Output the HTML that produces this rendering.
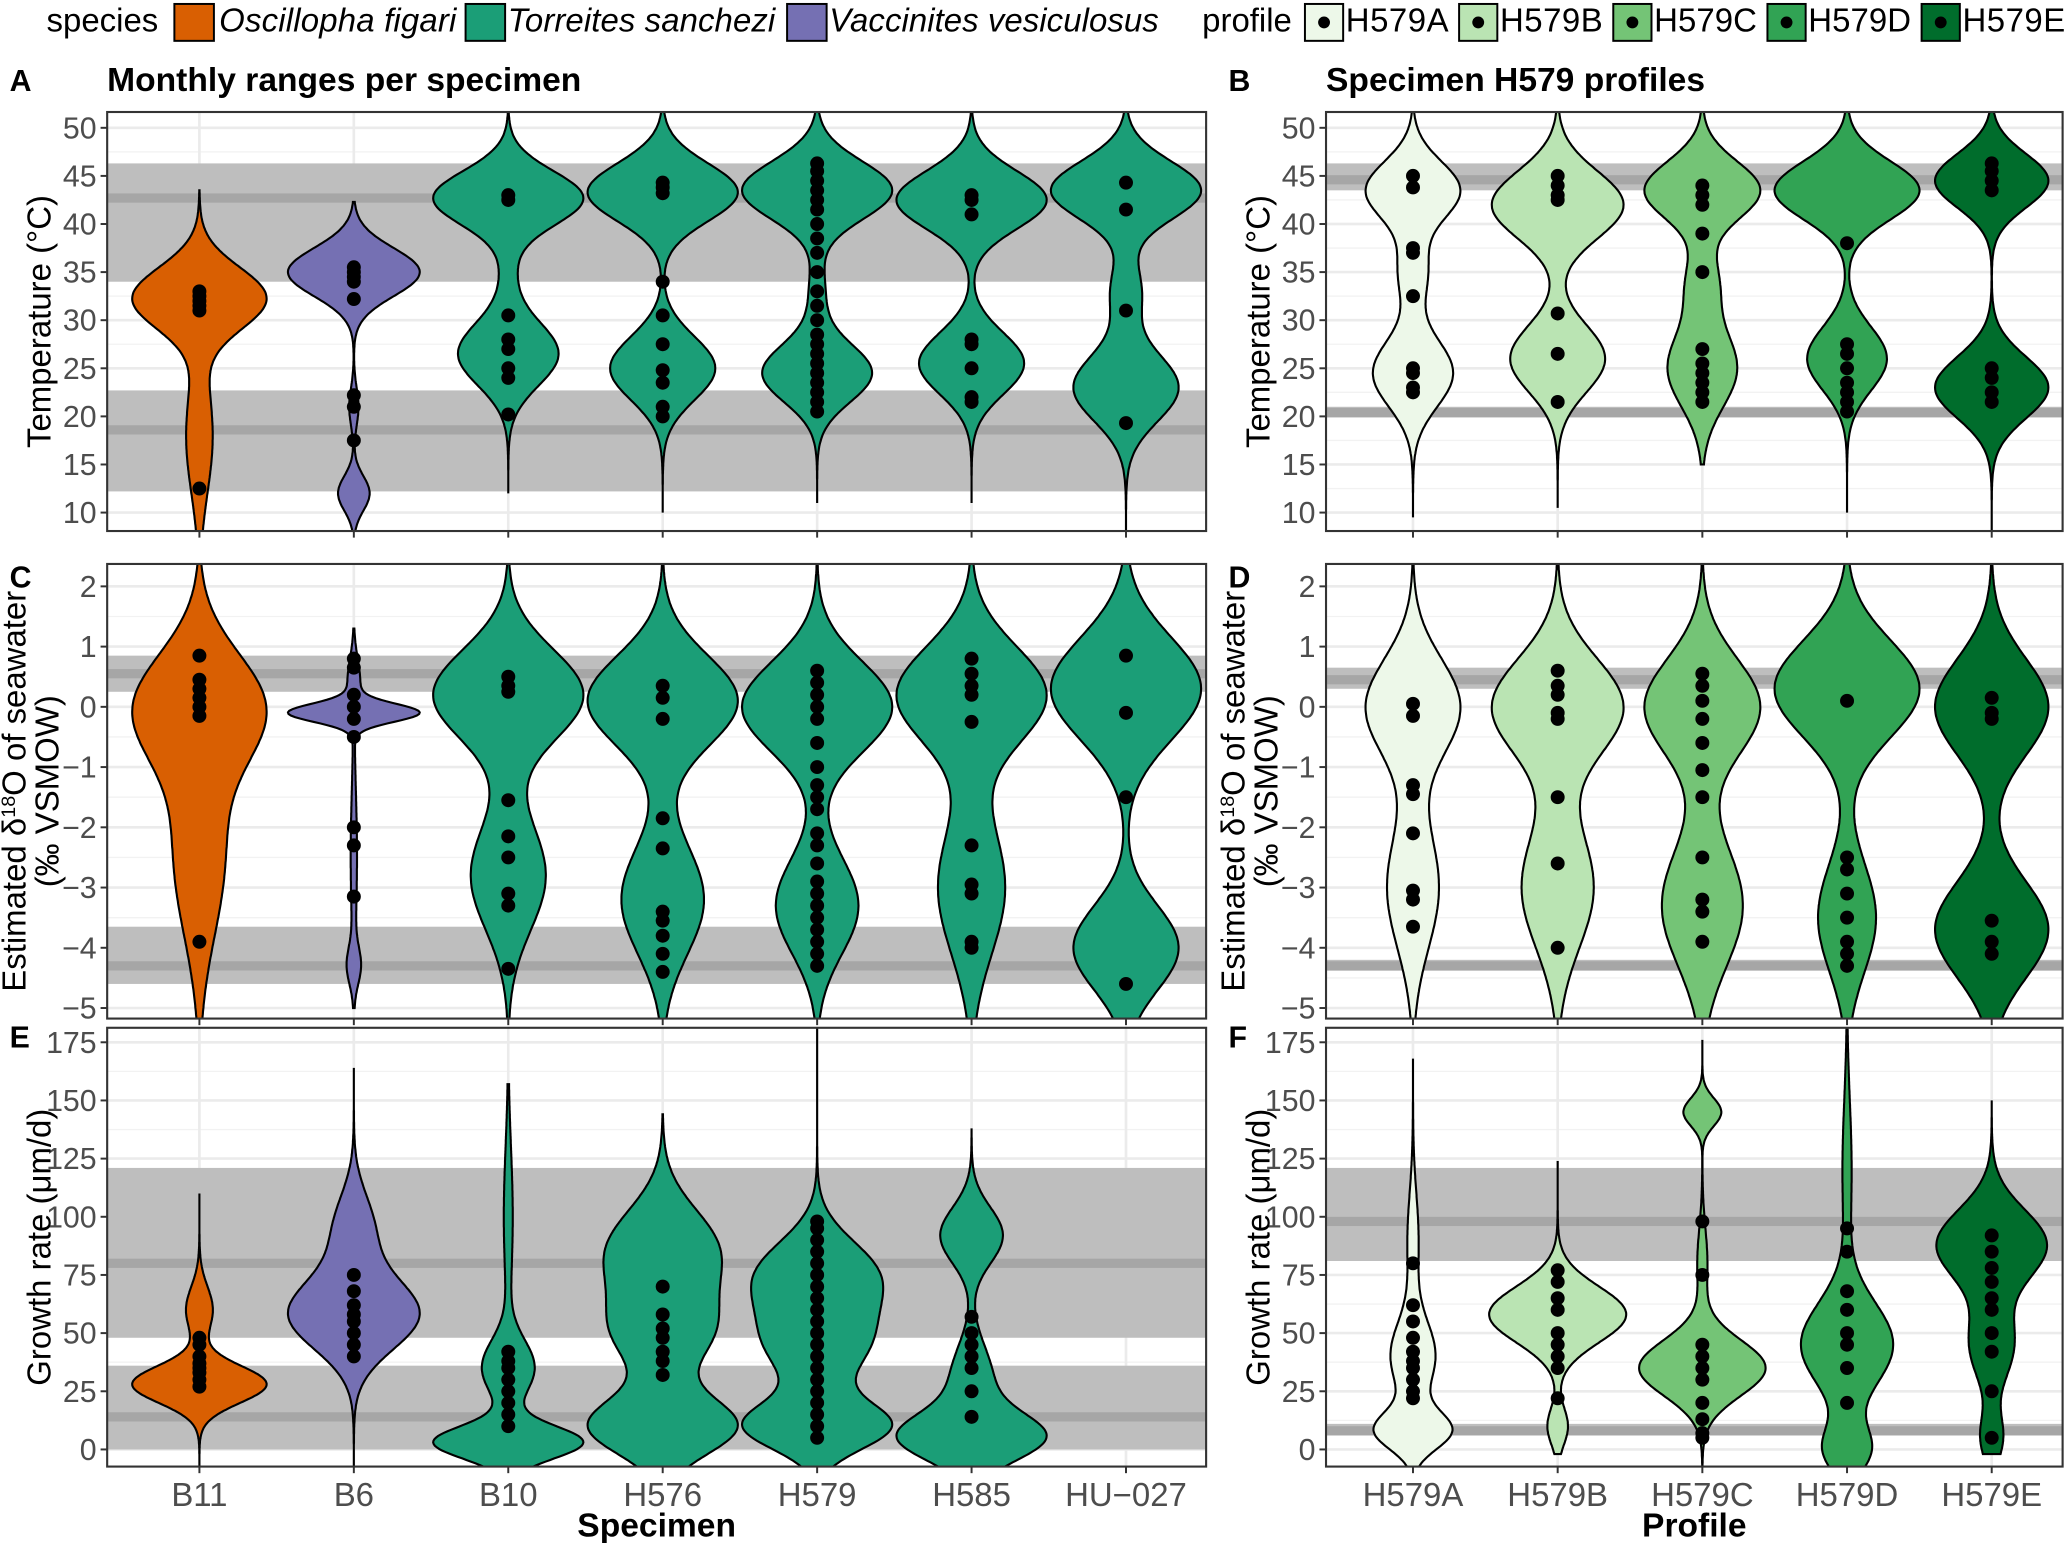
<!DOCTYPE html>
<html><head><meta charset="utf-8"><style>
html,body{margin:0;padding:0;background:#fff}
svg{display:block}
text{font-family:"Liberation Sans",sans-serif}
</style></head><body>
<svg id="fig" width="2067" height="1543" viewBox="0 0 1568 1171" xmlns="http://www.w3.org/2000/svg">
<defs>
<clipPath id="cpA"><rect x="81" y="85" width="834" height="318"/></clipPath>
<clipPath id="cpB"><rect x="1006" y="85" width="559" height="318"/></clipPath>
<clipPath id="cpC"><rect x="81" y="428" width="834" height="345"/></clipPath>
<clipPath id="cpD"><rect x="1006" y="428" width="559" height="345"/></clipPath>
<clipPath id="cpE"><rect x="81" y="780" width="834" height="333"/></clipPath>
<clipPath id="cpF"><rect x="1006" y="780" width="559" height="333"/></clipPath>
</defs>
<g>
<text x="35" y="24" font-size="25">species</text>
<rect x="132" y="3" width="30" height="28" fill="#d95f02" stroke="#000" stroke-width="1.5"/>
<text x="166" y="24" font-size="25" font-style="italic" textLength="180">Oscillopha figari</text>
<rect x="353" y="3" width="30" height="28" fill="#1b9e77" stroke="#000" stroke-width="1.5"/>
<text x="385" y="24" font-size="25" font-style="italic" textLength="203">Torreites sanchezi</text>
<rect x="597" y="3" width="30" height="28" fill="#7570b3" stroke="#000" stroke-width="1.5"/>
<text x="629" y="24" font-size="25" font-style="italic" textLength="250">Vaccinites vesiculosus</text>
<text x="912" y="24" font-size="25">profile</text>
</g>
<g id="legend2"></g>
<g id="plots"></g>
</svg>
<script>
const NS="http://www.w3.org/2000/svg";
const specimens=["B11","B6","B10","H576","H579","H585","HU\u2212027"];
const specFill=["#d95f02","#7570b3","#1b9e77","#1b9e77","#1b9e77","#1b9e77","#1b9e77"];
const profiles=["H579A","H579B","H579C","H579D","H579E"];
const profFill=["#edf8e9","#bae4b3","#74c476","#31a354","#006d2c"];

const tempTicks=[10,15,20,25,30,35,40,45,50];
const d18Ticks=[-5,-4,-3,-2,-1,0,1,2];
const growthTicks=[0,25,50,75,100,125,150,175];

// reference bands [low, high, line]
const bandsA=[[34,46.3,42.7],[12.2,22.7,18.6]];
const bandsB=[[43.5,46.3,44.6],[19.9,21.0,20.4]];
const bandsC=[[0.25,0.85,0.55],[-4.6,-3.65,-4.3]];
const bandsD=[[0.3,0.65,0.45],[-4.38,-4.2,-4.3]];
const bandsE=[[48,121,80],[0,36,14]];
const bandsF=[[81,121,98],[6,11,8]];

// violin density mixtures: [mu, sd, weight]; extent [lo, hi]
const mixA=[[[32.3,3.2,1],[18,6,0.2]],[[35,2.5,1],[21,2,0.07],[12,1.8,0.24]],[[42.7,2.8,1],[26.5,3.3,0.67],[35,3,0.08]],[[43.3,3,1],[25,3.3,0.7]],[[43.5,3,1],[24.5,3,0.73],[33,3,0.1]],[[42.5,3,1],[25.5,3.2,0.7]],[[43.5,3,1],[23,3.5,0.7],[33,3,0.2]]];
const extA=[[5,43.5],[7,42.3],[12,55],[10,55],[11,55],[11,55],[7,55]];
const mixB=[[[43.5,3,1],[24.5,3.5,0.85],[35,3,0.3]],[[42,3.5,1],[26,3.5,0.72]],[[43.5,3,1],[25,4,0.6],[34,3,0.25]],[[43.5,3,1],[26,3.3,0.55]],[[44.5,2.8,1],[23,3.2,1]]];
const extB=[[9.5,55],[10.5,55],[15,55],[10,55],[7,55]];
const mixC=[[[0,0.9,1],[-2.5,1.3,0.4]],[[-0.1,0.15,1],[0.4,0.4,0.1],[-2.5,1.2,0.05],[-4.3,0.3,0.1]],[[0.2,0.75,1],[-2.8,0.9,0.5]],[[0.1,0.75,1],[-3.2,0.9,0.55]],[[0,0.75,1],[-3.3,0.8,0.55]],[[0.2,0.8,1],[-3,1.1,0.45]],[[0.3,0.85,1],[-4,0.7,0.7]]];
const extC=[[-6,3],[-5,1.3],[-6,3],[-6,3],[-6,3],[-6,3],[-6,3]];
const mixD=[[[0,0.8,1],[-3,1,0.55]],[[0,0.8,1],[-3,1,0.55]],[[0,0.8,1],[-3.3,1,0.7]],[[0.3,0.8,1],[-3.5,0.9,0.4]],[[0,0.8,1],[-3.7,0.8,1]]];
const extD=[[-5.2,3],[-5.2,3],[-6,3],[-6,3],[-6,3]];
const mixE=[[[28,8,1],[60,10,0.2]],[[58,15,1],[95,15,0.3]],[[3,7,1],[35,12,0.35],[100,30,0.06]],[[10,12,1],[85,18,0.75],[50,15,0.6]],[[75,15,0.8],[10,10,1],[45,15,0.65]],[[5,10,1],[92,12,0.45],[30,15,0.3]],[]];
const extE=[[-8,110],[-8,164],[-8,157],[-8,144],[-8,181],[-8,138],[0,0]];
const mixF=[[[8,8,1],[40,15,0.6],[90,20,0.15]],[[58,12,1],[10,8,0.15]],[[35,12,1],[145,6,0.3],[80,15,0.08]],[[45,18,1],[0,10,0.5],[120,30,0.1]],[[88,15,1],[45,15,0.4],[5,10,0.2]]];
const extF=[[-8,168],[-2,124],[-8,176],[-8,190],[-2,150]];

// measured points
const ptsA=[[33,32.5,32,31.5,31,12.5],[35.5,35,34.5,34,32.2,22.2,21,17.5],[43,42.5,30.5,28,27,25,24,20.2],[44.3,43.8,43.2,34,30.5,27.5,24.8,23.5,21,20],[46.3,45.5,44.5,43.5,42.5,41.5,40,38.5,37,35,33,31.5,30,28.5,27.5,26.5,25.5,24.5,23.5,22.5,21.5,20.5],[43,42.5,41,28,27.5,25,22,21.5],[44.3,41.5,31,19.3]];
const ptsB=[[45,43.8,37.5,37,32.5,25,24.5,23,22.5],[45,44,43,42.5,30.7,26.5,21.5],[44,43,42,39,35,27,25.5,24.5,23.5,22.5,21.5],[38,27.5,26.5,25,23.5,22.5,21.5,20.5],[46.3,45.5,44.5,43.5,25,24,22.5,21.5]];
const ptsC=[[0.85,0.45,0.3,0.15,0,-0.15,-3.9],[0.8,0.65,0.2,0,-0.2,-0.5,-2,-2.3,-3.15],[0.5,0.35,0.25,-1.55,-2.15,-2.5,-3.1,-3.3,-4.35],[0.35,0.15,-0.2,-1.85,-2.35,-3.4,-3.55,-3.8,-4.1,-4.4],[0.6,0.4,0.2,0,-0.2,-0.6,-1,-1.3,-1.5,-1.7,-2.1,-2.3,-2.6,-2.9,-3.1,-3.3,-3.5,-3.7,-3.9,-4.1,-4.3],[0.8,0.55,0.35,0.2,-0.25,-2.3,-2.95,-3.1,-3.9,-4],[0.85,-0.1,-1.5,-4.6]];
const ptsD=[[0.05,-0.15,-1.3,-1.45,-2.1,-3.05,-3.2,-3.65],[0.6,0.35,0.2,-0.1,-0.2,-1.5,-2.6,-4],[0.55,0.35,0.1,-0.2,-0.6,-1.05,-1.5,-2.5,-3.2,-3.4,-3.9],[0.1,-2.5,-2.7,-3.1,-3.5,-3.9,-4.1,-4.3],[0.15,-0.1,-0.2,-3.55,-3.9,-4.1]];
const ptsE=[[48,45,40,37,35,33,30,27],[75,68,62,58,55,50,45,40],[42,38,35,30,25,20,15,10],[70,58,52,48,42,38,32],[98,95,90,85,80,75,70,65,60,55,50,45,40,35,30,25,20,15,10,5],[57,50,45,40,35,25,14],[]];
const ptsF=[[80,62,55,48,42,38,35,30,25,22],[77,72,65,60,50,45,40,35,22],[98,75,45,40,35,30,20,13,7,5],[95,85,68,60,50,45,35,20],[92,85,78,72,65,60,50,42,25,5]];

// layout (styles, not data)
const maxHwLeft=[51,50,57,57,57,57,57];
const maxHwRight=[36,50,44,55,43];
const maxHwRightE=[30,52,48,35,42];

function el(tag,attrs,parent){const e=document.createElementNS(NS,tag);for(const k in attrs)e.setAttribute(k,attrs[k]);parent.appendChild(e);return e;}
const root=document.getElementById('plots');

function drawPanel(cfg){
  const g=el('g',{},root);
  
  
  const {x0,x1,y0,y1}=cfg;
  const yS=v=>cfg.yref0+(v-cfg.v0)*(cfg.yref1-cfg.yref0)/(cfg.v1-cfg.v0);
  const n=cfg.cats.length;
  const xS=i=>cfg.xc0+i*cfg.dx;
  const bg=el('rect',{x:x0,y:y0,width:x1-x0,height:y1-y0,fill:'#fff'},g);
  
  
  const cg=el('g',{'clip-path':`url(#${cfg.clip})`},g);
  const t=cfg.ticks, step=t[1]-t[0];
  for(let i=0;i<t.length;i++){
    const mv=t[i]-step/2; const ym=yS(mv);
    if(ym>y0&&ym<y1) el('line',{x1:x0,x2:x1,y1:ym,y2:ym,stroke:'#f2f2f2','stroke-width':1},cg);
    if(i===t.length-1){const ym2=yS(t[i]+step/2); if(ym2>y0&&ym2<y1) el('line',{x1:x0,x2:x1,y1:ym2,y2:ym2,stroke:'#f2f2f2','stroke-width':1},cg);}
    const gl=el('line',{x1:x0,x2:x1,y1:yS(t[i]),y2:yS(t[i]),stroke:'#ebebeb','stroke-width':2},cg);
    
    
  }
  for(let i=0;i<n;i++) el('line',{x1:xS(i),x2:xS(i),y1:y0,y2:y1,stroke:'#ebebeb','stroke-width':2},cg);
  cfg.bands.forEach(b=>{
    const r=el('rect',{x:x0,width:x1-x0,y:yS(b[1]),height:yS(b[0])-yS(b[1]),fill:'#bebebe'},cg);
    
    
    el('rect',{x:x0,width:x1-x0,y:yS(b[2])-3.5,height:7,fill:'#a6a6a6'},cg);
  });
  for(let i=0;i<n;i++){
    const mix=cfg.mix[i]; if(!mix.length) continue;
    const [lo,hi]=cfg.ext[i];
    const N=240, vals=[], dens=[];
    for(let k=0;k<=N;k++){const v=lo+(hi-lo)*k/N;let d=0;mix.forEach(m=>{d+=m[2]*Math.exp(-0.5*((v-m[0])/m[1])**2);});vals.push(v);dens.push(d);}
    const mx=Math.max(...dens);
    const hw=cfg.maxHw[i];
    let pts=[];
    for(let k=0;k<=N;k++) pts.push([xS(i)+hw*dens[k]/mx,yS(vals[k])]);
    for(let k=N;k>=0;k--) pts.push([xS(i)-hw*dens[k]/mx,yS(vals[k])]);
    const p=el('path',{d:'M'+pts.map(q=>q[0].toFixed(1)+','+q[1].toFixed(1)).join('L')+'Z',fill:cfg.fills[i],stroke:'#000','stroke-width':1.6},cg);
    
    
  }
  for(let i=0;i<n;i++){
    cfg.pts[i].forEach(v=>{
      const c=el('circle',{cx:xS(i),cy:yS(v),r:5.3,fill:'#000'},cg);
      
      
    });
  }
  const br=el('rect',{x:x0,y:y0,width:x1-x0,height:y1-y0,fill:'none',stroke:'#333','stroke-width':1.6},g);
  
  
  t.forEach(v=>{
    const y=yS(v);
    el('line',{x1:x0-5,x2:x0,y1:y,y2:y,stroke:'#333','stroke-width':1.5},g);
    const tx=el('text',{x:x0-8,y:y+8,'font-size':23,fill:'#4d4d4d','text-anchor':'end'},g);
    tx.textContent=v<0?'\u2212'+(-v):String(v);
    
    
  });
  for(let i=0;i<n;i++){
    el('line',{x1:xS(i),x2:xS(i),y1:y1,y2:y1+5,stroke:'#333','stroke-width':1.5},g);
    if(cfg.xlabels){
      const tx=el('text',{x:xS(i),y:y1+30,'font-size':25,fill:'#4d4d4d','text-anchor':'middle'},g);
      tx.textContent=cfg.cats[i];
      
      
    }
  }
  const lt=el('text',{x:x0-74,y:cfg.letterY,'font-size':23,'font-weight':'bold'},g);
  lt.textContent=cfg.letter;
  
  
  if(cfg.title){
    const tt=el('text',{x:x0,y:y0-16,'font-size':25.5,'font-weight':'bold'},g);
    tt.textContent=cfg.title;
    
    
  }
  const cy=(y0+y1)/2;
  cfg.ytitle.forEach((line,j)=>{
    const yt=el('text',{x:0,y:0,'font-size':25,'text-anchor':'middle',transform:`translate(${cfg.ytx[j]},${cy}) rotate(-90)`},g);
    yt.innerHTML=line;
    
    
  });
  if(cfg.xtitle){
    const xt=el('text',{x:(x0+x1)/2,y:y1+53,'font-size':25.5,'font-weight':'bold','text-anchor':'middle'},g);
    xt.textContent=cfg.xtitle;
    
    
  }
}
const L={x0:81,x1:915,xc0:151,dx:117.2,cats:specimens,fills:specFill,maxHw:maxHwLeft};
const R={x0:1006,x1:1565,xc0:1072,dx:109.8,cats:profiles,fills:profFill};
const rowT={y0:85,y1:403,yref0:389,yref1:97,v0:10,v1:50,ticks:tempTicks,ytitle:['Temperature (°C)'],letterY:69};
const rowC={y0:428,y1:773,yref0:765,yref1:445,v0:-5,v1:2,ticks:d18Ticks,ytitle:['Estimated δ<tspan dy="-8" font-size="15">18</tspan><tspan dy="8">O of seawater</tspan>','(‰ VSMOW)'],letterY:446};
const rowE={y0:780,y1:1113,yref0:1100,yref1:791,v0:0,v1:175,ticks:growthTicks,ytitle:['Growth rate (μm/d)'],xlabels:true,letterY:795};
drawPanel({...L,...rowT,name:'panel-a-temperature',clip:'cpA',letter:'A',title:'Monthly ranges per specimen',bands:bandsA,mix:mixA,ext:extA,pts:ptsA,ytx:[38]});
drawPanel({...R,...rowT,name:'panel-b-temperature',clip:'cpB',letter:'B',title:'Specimen H579 profiles',bands:bandsB,mix:mixB,ext:extB,pts:ptsB,maxHw:maxHwRight,ytx:[963]});
drawPanel({...L,...rowC,name:'panel-c-d18o',clip:'cpC',letter:'C',bands:bandsC,mix:mixC,ext:extC,pts:ptsC,ytx:[19,44]});
drawPanel({...R,...rowC,name:'panel-d-d18o',clip:'cpD',letter:'D',bands:bandsD,mix:mixD,ext:extD,pts:ptsD,maxHw:maxHwRight,ytx:[944,969]});
drawPanel({...L,...rowE,name:'panel-e-growth',clip:'cpE',letter:'E',bands:bandsE,mix:mixE,ext:extE,pts:ptsE,ytx:[38],xtitle:'Specimen'});
drawPanel({...R,...rowE,name:'panel-f-growth',clip:'cpF',letter:'F',bands:bandsF,mix:mixF,ext:extF,pts:ptsF,maxHw:maxHwRightE,ytx:[963],xtitle:'Profile'});
const lg=document.getElementById('legend2');
profiles.forEach((p,i)=>{
  const x=990+i*117;
  const r=el('rect',{x:x,y:3,width:29,height:28,fill:profFill[i],stroke:'#000','stroke-width':1.5},lg);
  
  
  el('circle',{cx:x+14.5,cy:17,r:4.5,fill:'#000'},lg);
  const t=el('text',{x:x+31,y:24,'font-size':25,textLength:78},lg);
  t.textContent=p;
  
  
});
</script>
</body></html>
